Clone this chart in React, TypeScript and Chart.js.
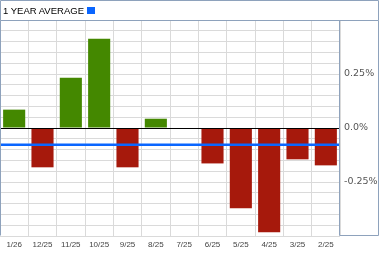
import React, { useEffect, useRef } from "react";
import { Chart, registerables } from "chart.js";

Chart.register(...registerables);

const categories = ["1/26", "12/25", "11/25", "10/25", "9/25", "8/25", "7/25", "6/25", "5/25", "4/25", "3/25", "2/25"];
const monthlyChange = [0.085, -0.182, 0.233, 0.413, -0.182, 0.043, 0, -0.164, -0.372, -0.483, -0.145, -0.173];
const yearAverage = -0.077;
const labeledTicks = [0.25, 0, -0.25];
const tickLabels = ["0.25%", "0.0%", "-0.25%"];
const axisMin = -0.5;
const axisMax = 0.5;
const gridStep = 0.05;
const seriesTitle = "1 YEAR AVERAGE";

const FRAME = "#8ea2bc";
const GREEN = "#448800";
const RED = "#a6190c";
const BLUE = "#0a66ff";

const overlay = {
  id: "overlay",
  afterDatasetsDraw(chart: any) {
    const { ctx, chartArea, scales } = chart;
    const y = scales.y;
    ctx.save();
    const z = Math.round(y.getPixelForValue(0)) + 0.5;
    ctx.strokeStyle = "#000";
    ctx.lineWidth = 1;
    ctx.beginPath();
    ctx.moveTo(chartArea.left, z);
    ctx.lineTo(chartArea.right, z);
    ctx.stroke();
    const a = y.getPixelForValue(yearAverage);
    ctx.strokeStyle = BLUE;
    ctx.lineWidth = 2.5;
    ctx.beginPath();
    ctx.moveTo(chartArea.left, a);
    ctx.lineTo(chartArea.right, a);
    ctx.stroke();
    ctx.restore();
  },
  afterDraw(chart: any) {
    const { ctx, chartArea } = chart;
    const w = chart.width;
    ctx.save();
    ctx.strokeStyle = FRAME;
    ctx.lineWidth = 1;
    const top = chartArea.top + 0.5;
    const bot = chartArea.bottom - 0.5;
    const r = Math.round(chartArea.right) - 0.5;
    ctx.beginPath();
    ctx.rect(0.5, 0.5, w - 1, chartArea.top);
    ctx.moveTo(0.5, top);
    ctx.lineTo(0.5, bot);
    ctx.moveTo(r, top);
    ctx.lineTo(r, bot);
    ctx.moveTo(w - 0.5, top);
    ctx.lineTo(w - 0.5, bot);
    ctx.moveTo(r, bot);
    ctx.lineTo(w - 0.5, bot);
    ctx.stroke();
    ctx.restore();
  },
};

export default function App() {
  const ref = useRef<HTMLCanvasElement | null>(null);

  useEffect(() => {
    if (!ref.current) return;
    const chart = new Chart(ref.current, {
      type: "bar",
      data: {
        labels: categories,
        datasets: [
          {
            label: seriesTitle,
            data: monthlyChange,
            backgroundColor: monthlyChange.map((v) => (v >= 0 ? GREEN : RED)),
            barPercentage: 0.78,
            categoryPercentage: 1,
            borderWidth: 0,
          },
        ],
      },
      options: {
        animation: false,
        responsive: false,
        maintainAspectRatio: false,
        layout: { padding: { top: 20, left: 0, right: 0, bottom: 0 } },
        plugins: {
          legend: { display: false },
          tooltip: { enabled: false },
          title: { display: false },
        },
        scales: {
          x: {
            offset: true,
            grid: { offset: true, color: "#dadada", lineWidth: 1, drawTicks: false },
            border: { display: false },
            ticks: {
              autoSkip: false,
              maxRotation: 0,
              minRotation: 0,
              padding: 4,
              color: "#444",
              font: { family: "'Liberation Sans', Arial, sans-serif", size: 8 },
            },
            afterFit(scale: any) {
              scale.height = 19;
              scale.paddingLeft = 0;
              scale.paddingRight = 0;
            },
          },
          y: {
            position: "right",
            min: axisMin,
            max: axisMax,
            grid: { color: "#dadada", lineWidth: 1, drawTicks: false },
            border: { display: false },
            ticks: {
              stepSize: gridStep,
              maxTicksLimit: 100,
              autoSkip: false,
              padding: 4,
              color: "#555",
              font: { family: "'DejaVu Sans', sans-serif", size: 9.5 },
              callback: (v: any) => {
                const i = labeledTicks.findIndex((t) => Math.abs(t - Number(v)) < 1e-6);
                return i >= 0 ? tickLabels[i] : "";
              },
            },
            afterFit(scale: any) {
              scale.width = 39;
              scale.paddingTop = 0;
              scale.paddingBottom = 0;
            },
          },
        },
      },
      plugins: [overlay],
    });
    return () => chart.destroy();
  }, []);

  return (
    <div style={{ position: "absolute", left: 0, top: 0, width: 379, height: 255, background: "#fff" }}>
      <canvas ref={ref} width={379} height={255} style={{ position: "absolute", left: 0, top: 0, width: 379, height: 255 }} />
      <div
        style={{
          position: "absolute",
          left: 3,
          top: 5,
          height: 11,
          display: "flex",
          alignItems: "center",
          fontFamily: "'Liberation Sans', Arial, sans-serif",
          fontSize: 9.5,
          color: "#000",
          lineHeight: "11px",
          whiteSpace: "nowrap",
        }}
      >
        <span>{seriesTitle}</span>
        <span style={{ display: "inline-block", width: 8, height: 7, background: BLUE, marginLeft: 3 }} />
      </div>
    </div>
  );
}
